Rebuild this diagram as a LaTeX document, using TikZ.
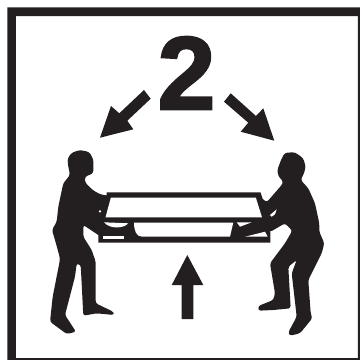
\documentclass[tikz,border=0pt]{standalone}
\usepackage{fontspec}
\setmainfont{Liberation Sans}
\newfontfamily\heavyfont[FakeBold=2.2]{Liberation Sans Bold}
\usepackage{xcolor}
\definecolor{ink}{HTML}{231F20}
\begin{document}
\begin{tikzpicture}[x=0.01cm, y=-0.01cm, person/.style={fill=ink, rounded corners=0.025cm}, hole/.style={fill=white}, number/.style={font=\heavyfont\fontsize{29.5}{29.5}\selectfont, text=ink, inner sep=0pt}]
\useasboundingbox (0,0) rectangle (360,360);
\fill[white] (0,0) rectangle (360,360);
% frame
\fill[ink, even odd rule] (7.3,7.3) rectangle (360,360) (16,16) rectangle (358,358);
% count
\node[number] (count) at (186.5,73) {2};
% arrows
\fill[ink] (144,90) -- (150.7,98.7) -- (127.3,120.7) -- (133.3,129.3) -- (100,137.7) -- (111,106) -- (119.3,113.3) -- cycle;
\fill[ink] (230.7,93.3) -- (224,101.7) -- (248.3,122.7) -- (240.7,131.7) -- (274.3,140.7) -- (263.3,108.3) -- (256,116) -- cycle;
\fill[ink] (187.3,255) -- (203.3,285) -- (193.3,285) -- (193.3,319) -- (181.7,319) -- (181.7,285) -- (171.7,285) -- cycle;
% table
\fill[ink] (106.7,192.3) -- (260.5,192.3) -- (270.5,222) -- (270.5,242.5) -- (98.3,242.5) -- (98.3,230) -- (105,217) -- cycle;
\fill[hole] (110.9,197.5) -- (255.8,197.5) -- (262,217.3) -- (105.5,217.3) -- cycle;
\fill[hole] (134,222.5) -- (233.3,222.5) -- (230,236.7) -- (142,236.7) .. controls (136,236.7) and (134,230) .. (134,222.5) -- cycle;
% left person
\fill[person] (71.7,152.7) -- (80,150) -- (89.3,152) -- (93.3,159.3) -- (93.3,173.3) -- (85,176.7) -- (85,182.3) -- (92.7,190) -- (100,194.3) -- (110,196) -- (105,217.3) -- (100,236) -- (98.3,235) -- (83.3,225) -- (83.3,236.7) -- (91.7,250) -- (95.7,261.7) -- (95.7,303.3) -- (113.3,311.7) -- (114,315) -- (96.7,313.3) -- (83.3,315.7) -- (80.7,265) -- (76.7,263.3) -- (75,276.7) -- (65,315) -- (76,331.7) -- (66.7,334) -- (50,321.7) -- (52.7,296.7) -- (59.3,263.3) -- (60,258.3) -- (55,240) -- (52,230) -- (56.7,221.7) -- (58.3,206.7) -- (63.3,183.3) -- (70,175) -- (67.7,163.3) -- (67.7,158.3) -- cycle;
\fill[hole] (100,211.3) circle (1.2);
\fill[hole] (104,222.3) -- (128.3,223.3) .. controls (124,228.5) and (110,229.5) .. (104,222.3) -- cycle;
\fill[hole] (103.3,236) rectangle (124.3,239);
% right person
\fill[person] (285,152.7) -- (295,152.3) -- (303.3,158.3) -- (305.7,166.7) -- (304,173.3) -- (300.7,180) -- (308.3,188.3) -- (315,203.3) -- (319.3,223.3) -- (319.3,231.7) -- (324.3,243.3) -- (321.7,253.3) -- (308.3,280) -- (310.7,313.3) -- (312.3,318.3) -- (300,333.3) -- (290,335.7) -- (288.3,332.3) -- (296.7,316.7) -- (291.7,273.3) -- (296.7,260) -- (288.3,266.7) -- (290.7,308.3) -- (273.3,310) -- (258.3,310.7) -- (258.3,306) -- (273.3,300) -- (275,293.3) -- (270,263.3) -- (285,243.3) -- (292.3,230.7) -- (285,223.3) -- (270,232) -- (266,225) -- (261,197.5) -- (266.7,202.3) -- (281.7,185) -- (283.3,181.7) -- (278.3,176) -- (277.3,170) -- (281.7,158.3) -- cycle;
\fill[hole] (270,215) -- (276.7,209.3) -- (275,214.3) -- (271.7,216.7) -- cycle;
\fill[hole] (236.7,222.3) -- (251.7,222.3) -- (240,226.7) -- cycle;
\fill[hole] (245,236.7) -- (265,231.7) -- (267.7,236.7) -- cycle;
\end{tikzpicture}
\end{document}
